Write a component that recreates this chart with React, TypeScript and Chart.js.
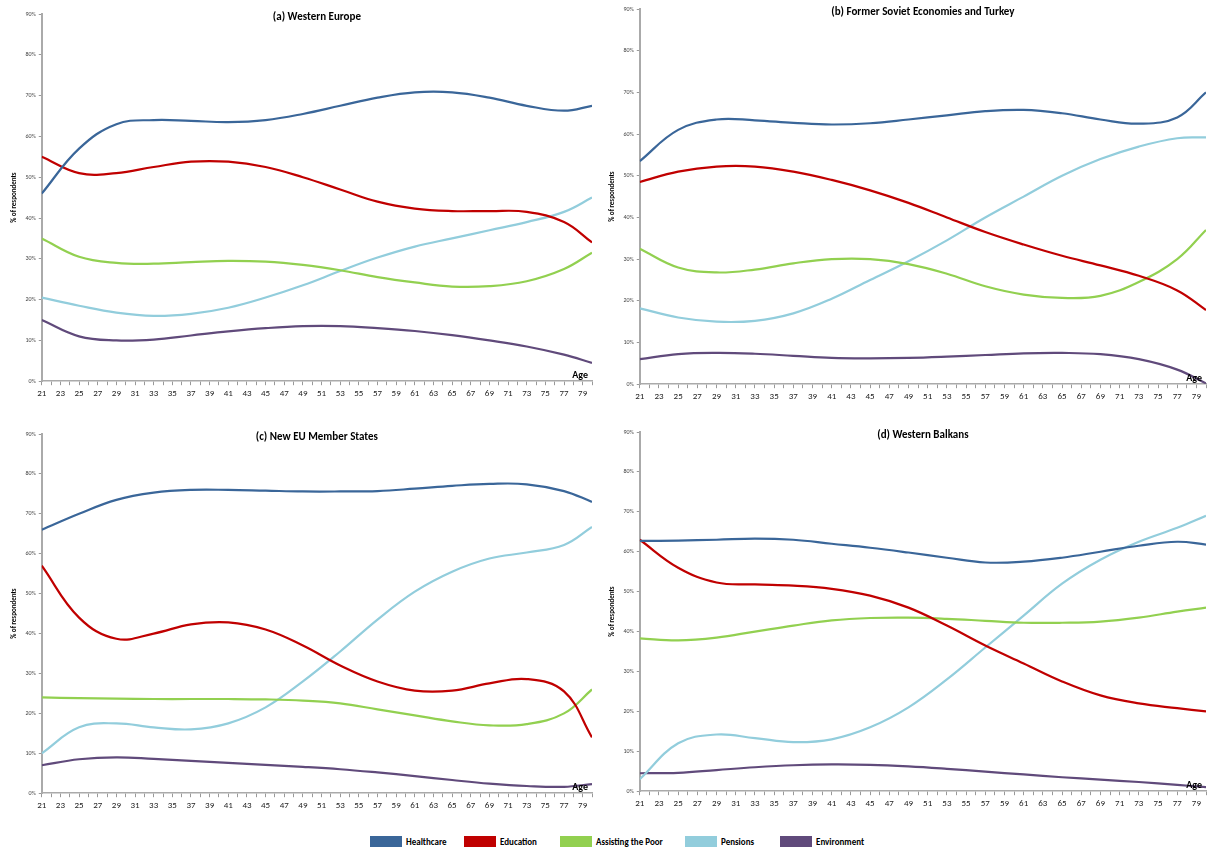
import { Chart, registerables } from 'chart.js';
import { useEffect, useRef } from 'react';

Chart.register(...registerables);

const ages = [21, 25, 29, 33, 37, 41, 45, 49, 53, 57, 61, 65, 69, 73, 77, 80];
const seriesNames = ['Healthcare', 'Education', 'Assisting the Poor', 'Pensions', 'Environment'];
const seriesColors = ['#3a6699', '#c00000', '#92d050', '#92cddc', '#604a7b'];

const westernEurope = [
  [46, 57, 63, 64, 63.8, 63.5, 64, 65.5, 67.5, 69.5, 70.8, 70.8, 69.5, 67.5, 66.3, 67.5],
  [55, 51, 51, 52.5, 53.8, 53.8, 52.5, 50, 47, 44, 42.3, 41.7, 41.7, 41.5, 39, 34],
  [35, 30.5, 29, 28.8, 29.2, 29.5, 29.3, 28.5, 27.2, 25.5, 24.2, 23.2, 23.3, 24.5, 27.5, 31.5],
  [20.5, 18.5, 16.8, 16, 16.5, 18, 20.5, 23.5, 27, 30.3, 33, 35, 37, 39, 41.5, 45],
  [15, 11, 10, 10.2, 11.2, 12.2, 13, 13.5, 13.5, 13, 12.3, 11.3, 10, 8.5, 6.5, 4.5],
];
const formerSoviet = [
  [53.5, 61, 63.5, 63.3, 62.7, 62.3, 62.6, 63.5, 64.5, 65.5, 65.8, 65, 63.5, 62.5, 64, 70],
  [48.5, 51, 52.2, 52.2, 51, 49, 46.5, 43.5, 40, 36.5, 33.5, 30.8, 28.5, 26, 22.5, 17.8],
  [32.5, 28, 26.8, 27.5, 29, 30, 30, 28.8, 26.5, 23.5, 21.5, 20.7, 21.2, 24.5, 30, 37],
  [18.2, 16, 15, 15.2, 17, 20.5, 25, 29.5, 34.5, 40, 45, 50, 54, 57, 59, 59.2],
  [6, 7.2, 7.5, 7.3, 6.8, 6.3, 6.2, 6.3, 6.6, 7, 7.4, 7.5, 7.2, 6, 3.5, 0.2],
];
const newEU = [
  [66, 70, 73.5, 75.3, 76, 76, 75.8, 75.6, 75.6, 75.7, 76.3, 77, 77.5, 77.4, 75.7, 73],
  [57, 44, 38.7, 40, 42.3, 42.8, 41, 37, 32, 28, 25.7, 25.7, 27.5, 28.6, 25.5, 14],
  [24, 23.8, 23.7, 23.6, 23.6, 23.6, 23.5, 23.2, 22.5, 21, 19.5, 18, 17, 17.3, 20, 26],
  [10, 16.5, 17.5, 16.5, 16, 17.5, 21.5, 28, 35.5, 43.5, 50.5, 55.5, 58.8, 60.3, 62.2, 66.7],
  [7, 8.5, 9, 8.6, 8.1, 7.6, 7.1, 6.6, 6, 5.2, 4.3, 3.3, 2.4, 1.8, 1.6, 2.3],
];
const westernBalkans = [
  [62.7, 62.8, 63, 63.3, 63, 62, 61, 59.8, 58.5, 57.3, 57.5, 58.5, 60, 61.5, 62.5, 61.8],
  [63, 56, 52.3, 51.8, 51.5, 50.7, 49, 46, 41.5, 36.5, 32, 27.5, 24, 22, 20.8, 20],
  [38.3, 37.8, 38.5, 40, 41.5, 42.8, 43.4, 43.5, 43.2, 42.7, 42.2, 42.2, 42.5, 43.5, 45, 46],
  [3, 12, 14.2, 13.3, 12.3, 13, 16, 21, 28, 36, 44, 52, 58, 62.5, 66, 69],
  [4.5, 4.6, 5.3, 6, 6.5, 6.7, 6.6, 6.2, 5.6, 4.9, 4.2, 3.5, 2.9, 2.3, 1.6, 1],
];

const panelTitles = [
  '(a) Western Europe',
  '(b) Former Soviet Economies and Turkey',
  '(c) New EU Member States',
  '(d) Western Balkans',
];
const panelData = [westernEurope, formerSoviet, newEU, westernBalkans];
// top / bottom padding per panel, to put each plot area where the reference has it
const panelPad = [
  [14, 6],
  [9, 3],
  [22, 6],
  [20, 8],
];

const font = 'Calibri, Carlito, "Liberation Sans", Arial, sans-serif';

const labelsPlugin = {
  id: 'panelLabels',
  afterDraw(chart: any) {
    const { ctx, chartArea } = chart;
    const title = chart.options.plugins.panelLabels.title;
    ctx.save();
    ctx.fillStyle = '#000';
    ctx.font = `bold 11px ${font}`;
    ctx.textAlign = 'center';
    ctx.textBaseline = 'top';
    ctx.fillText(title, (chartArea.left + chartArea.right) / 2, chartArea.top - 2);
    ctx.font = `bold 10px ${font}`;
    ctx.textAlign = 'right';
    ctx.textBaseline = 'bottom';
    ctx.fillText('Age', chartArea.right - 4, chartArea.bottom - 1);
    ctx.restore();
  },
};

function Panel({ title, data, pad }: { title: string; data: number[][]; pad: number[] }) {
  const ref = useRef<HTMLCanvasElement>(null);

  useEffect(() => {
    if (!ref.current) return undefined;
    const chart = new Chart(ref.current, {
      type: 'line',
      data: {
        datasets: seriesNames.map((name, i) => ({
          label: name,
          data: ages.map((a, j) => ({ x: a, y: data[i][j] })),
          borderColor: seriesColors[i],
          backgroundColor: seriesColors[i],
          borderWidth: 2.2,
          pointRadius: 0,
          tension: 0.4,
        })),
      },
      options: {
        animation: false,
        responsive: true,
        maintainAspectRatio: false,
        layout: { padding: { top: pad[0], right: 6, left: 6, bottom: pad[1] } },
        plugins: {
          legend: { display: false },
          tooltip: { enabled: false },
          panelLabels: { title },
        } as any,
        scales: {
          x: {
            type: 'linear',
            min: 21,
            max: 80,
            afterBuildTicks: (axis: any) => {
              const t = [];
              for (let a = 21; a <= 80; a++) t.push({ value: a });
              axis.ticks = t;
            },
            ticks: {
              autoSkip: false,
              maxRotation: 0,
              font: { size: 9, family: font },
              color: '#222',
              callback: (v: any) => (Number(v) % 2 === 1 ? String(v) : ''),
            },
            grid: { drawOnChartArea: false, tickLength: 4, color: '#999' },
            border: { color: '#aaa', width: 1.5 },
          },
          y: {
            min: 0,
            max: 90,
            ticks: {
              stepSize: 10,
              font: { size: 6, family: font },
              color: '#444',
              callback: (v: any) => `${v}%`,
            },
            title: {
              display: true,
              text: '% of respondents',
              font: { size: 7, weight: 'bold', family: font },
              color: '#000',
            },
            grid: { drawOnChartArea: false, tickLength: 3, color: '#999' },
            border: { color: '#aaa', width: 2 },
          },
        },
      },
      plugins: [labelsPlugin],
    });
    return () => chart.destroy();
  }, [title, data, pad]);

  return (
    <div style={{ position: 'relative', height: 408 }}>
      <canvas ref={ref}></canvas>
    </div>
  );
}

export default function App() {
  return (
    <div style={{ position: 'absolute', left: 0, top: 0, width: 1216, height: 853, background: '#fff', fontFamily: font }}>
      <div style={{ display: 'grid', gridTemplateColumns: '598px 614px', rowGap: 4 }}>
        {panelTitles.map((t, i) => (
          <Panel key={t} title={t} data={panelData[i]} pad={panelPad[i]} />
        ))}
      </div>
      <div style={{ position: 'absolute', top: 836, left: 370, display: 'flex', fontSize: 9, fontWeight: 'bold' }}>
        {seriesNames.map((n, i) => (
          <div key={n} style={{ display: 'flex', alignItems: 'center', gap: 4, width: [94, 96, 125, 95, 120][i] }}>
            <span style={{ display: 'inline-block', width: 32, height: 11, background: seriesColors[i] }}></span>
            <span>{n}</span>
          </div>
        ))}
      </div>
    </div>
  );
}
